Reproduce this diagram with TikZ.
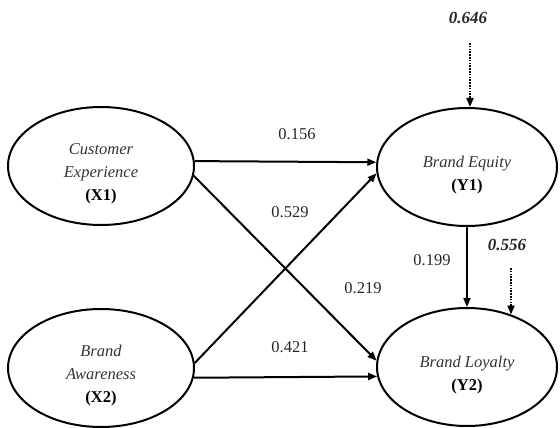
\documentclass[tikz,border=0pt]{standalone}
\usepackage{fontspec}
\setmainfont{Liberation Serif}
\usetikzlibrary{shapes.geometric,arrows.meta}

\newcommand{\toppad}{\rule{0pt}{27pt}}

\tikzset{
  latent/.style={draw, ellipse, line width=2pt, inner sep=0pt,
    minimum width=#1, minimum height=118pt, align=center,
    font=\fontsize{16.5}{23}\selectfont\itshape, text=black!80},
  effect/.style={line width=2pt, -{Triangle[length=9pt,width=7pt]}},
  resid/.style={line width=2pt, dash pattern=on 1.6pt off 1.2pt,
    -{Triangle[length=9pt,width=7pt]}},
  coef/.style={font=\fontsize{16.5}{18}\selectfont, text=black!85},
  rsq/.style={font=\fontsize{17}{18}\selectfont\bfseries\itshape, text=black!85}
}

\begin{document}
\begin{tikzpicture}[x=1pt,y=-1pt]
  \useasboundingbox (0,0) rectangle (560,428);

  % latent variables
  \node[latent=186pt] (X1) at (101,166) {\toppad Customer\\Experience\\\textbf{\upshape\color{black}(X1)}};
  \node[latent=186pt] (X2) at (101,368) {\toppad Brand\\Awareness\\\textbf{\upshape\color{black}(X2)}};
  \node[latent=180pt] (Y1) at (467,167) {\toppad Brand Equity\\\textbf{\upshape\color{black}(Y1)}};
  \node[latent=180pt] (Y2) at (467,367) {\toppad Brand Loyalty\\\textbf{\upshape\color{black}(Y2)}};

  % paths
  \draw[effect] (X1.3) -- (Y1.177);
  \draw[effect] (X1.-6) -- (Y2.176);
  \draw[effect] (X2.3) -- (Y1.184);
  \draw[effect] (X2.-6) -- (Y2.186);
  \draw[effect] (Y1.south) -- (Y2.north);

  % coefficients
  \node[coef] (c11) at (297,134) {0.156};
  \node[coef] (c21) at (290,212) {0.529};
  \node[coef] (c12) at (363,288) {0.219};
  \node[coef] (c22) at (290,347) {0.421};
  \node[coef] (cyy) at (432,260) {0.199};

  % R squared
  \node[rsq] (r1) at (468,18) {0.646};
  \node[rsq] (r2) at (507,245) {0.556};
  \coordinate (e1) at (470,43);
  \coordinate (e2) at (511,268);
  \draw[resid] (e1) -- (e1 |- Y1.north);
  \draw[resid] (e2) -- (e2 |- Y2.50);

\end{tikzpicture}
\end{document}
